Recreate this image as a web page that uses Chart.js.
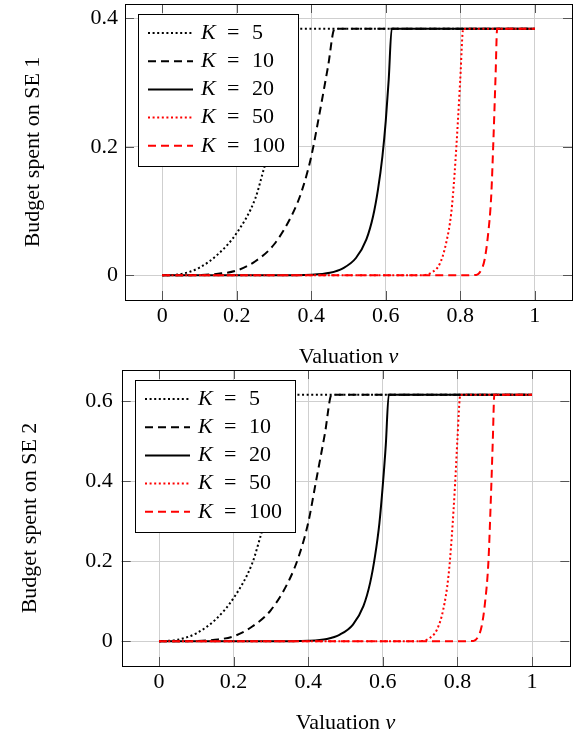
<!DOCTYPE html>
<html>
<head>
<meta charset="utf-8">
<title>Budget spent on SE 1 and SE 2</title>
<script src="https://cdn.jsdelivr.net/npm/chart.js"></script>
<style>
  body { margin: 0; background: #fff; }
  #wrap { position: relative; width: 573px; height: 734px; }
  canvas { position: absolute; left: 0; }
  #se1 { top: 0; }
  #se2 { top: 366px; }
</style>
<script>
  // K of each curve
  var kValues = [5, 10, 20, 50, 100];

  // valuation v, budget on SE 1, budget on SE 2
  var k5V   = [0, 0.05, 0.1, 0.15, 0.2, 0.25, 0.275, 0.3, 0.33, 0.36, 1];
  var k5SE1 = [0, 0.002, 0.012, 0.033, 0.066, 0.12, 0.17, 0.215, 0.29, 0.384, 0.384];
  var k5SE2 = [0, 0.004, 0.02, 0.053, 0.108, 0.195, 0.271, 0.345, 0.465, 0.616, 0.616];

  var k10V   = [0, 0.1, 0.15, 0.2, 0.25, 0.3, 0.35, 0.375, 0.4, 0.42, 0.445, 0.463, 1];
  var k10SE1 = [0, 0.0006, 0.0025, 0.0075, 0.022, 0.048, 0.096, 0.132, 0.185, 0.245, 0.325, 0.384, 0.384];
  var k10SE2 = [0, 0.001, 0.004, 0.0125, 0.037, 0.078, 0.155, 0.213, 0.296, 0.395, 0.52, 0.616, 0.616];

  var k20V   = [0, 0.3, 0.4, 0.45, 0.485, 0.52, 0.548, 0.566, 0.579, 0.591, 0.6, 0.608, 0.616, 1];
  var k20SE1 = [0, 0.0001, 0.001, 0.004, 0.011, 0.027, 0.056, 0.092, 0.133, 0.185, 0.24, 0.305, 0.384, 0.384];
  var k20SE2 = [0, 0.0001, 0.0015, 0.006, 0.017, 0.042, 0.088, 0.146, 0.212, 0.296, 0.39, 0.49, 0.616, 0.616];

  var k50V   = [0, 0.6, 0.7, 0.722, 0.745, 0.762, 0.776, 0.785, 0.794, 0.8, 0.808, 1];
  var k50SE1 = [0, 0, 0.0003, 0.004, 0.018, 0.05, 0.098, 0.16, 0.243, 0.305, 0.384, 0.384];
  var k50SE2 = [0, 0, 0.0005, 0.006, 0.029, 0.079, 0.1625, 0.2625, 0.396, 0.504, 0.616, 0.616];

  var k100V   = [0, 0.8, 0.843, 0.856, 0.865, 0.874, 0.883, 0.889, 0.895, 0.899, 1];
  var k100SE1 = [0, 0, 0.0006, 0.008, 0.0235, 0.06, 0.122, 0.21, 0.314, 0.384, 0.384];
  var k100SE2 = [0, 0, 0.001, 0.0125, 0.0375, 0.096, 0.196, 0.3375, 0.504, 0.616, 0.616];

  var xTicks = [0, 0.2, 0.4, 0.6, 0.8, 1];
  var xTickLabels = ['0', '0.2', '0.4', '0.6', '0.8', '1'];
  var se1Ticks = [0, 0.2, 0.4];
  var se1TickLabels = ['0', '0.2', '0.4'];
  var se2Ticks = [0, 0.2, 0.4, 0.6];
  var se2TickLabels = ['0', '0.2', '0.4', '0.6'];

  var FONT = '"Liberation Serif", "Times New Roman", serif';
  var FS = 22;

  function points(xs, ys) {
    return xs.map(function (x, i) { return { x: x, y: ys[i] }; });
  }

  function makeDatasets(ysList) {
    var colors = ['#000', '#000', '#000', '#ff0000', '#ff0000'];
    var dashes = [[2, 2.6], [8, 5], [], [2, 2.6], [8, 5]];
    var vList = [k5V, k10V, k20V, k50V, k100V];
    return kValues.map(function (k, i) {
      return {
        label: 'K = ' + k,
        data: points(vList[i], ysList[i]),
        borderColor: colors[i],
        borderDash: dashes[i],
        borderWidth: 2,
        pointRadius: 0,
        fill: false,
        cubicInterpolationMode: 'monotone',
        order: kValues.length - i
      };
    });
  }

  // frame, inner tick marks, legend box, x title
  var framePlugin = {
    id: 'frame',
    afterDatasetsDraw: function (chart) {
      var a = chart.chartArea, ctx = chart.ctx;
      var xs = chart.scales.x, ys = chart.scales.y;
      ctx.save();
      ctx.setLineDash([]);
      ctx.strokeStyle = '#555';
      ctx.lineWidth = 1;
      ctx.beginPath();
      xs.ticks.forEach(function (t) {
        var px = Math.round(xs.getPixelForValue(t.value)) + 0.5;
        ctx.moveTo(px, a.bottom); ctx.lineTo(px, a.bottom - 9);
        ctx.moveTo(px, a.top); ctx.lineTo(px, a.top + 9);
      });
      ys.ticks.forEach(function (t) {
        var py = Math.round(ys.getPixelForValue(t.value)) + 0.5;
        ctx.moveTo(a.left, py); ctx.lineTo(a.left + 9, py);
        ctx.moveTo(a.right, py); ctx.lineTo(a.right - 9, py);
      });
      ctx.stroke();
      ctx.strokeStyle = '#000';
      ctx.strokeRect(Math.round(a.left) + 0.5, Math.round(a.top) + 0.5,
                     Math.round(a.right - a.left), Math.round(a.bottom - a.top));

      // legend
      var bx = Math.round(a.left) + 13, by = Math.round(a.top) + 10, bw = 160, bh = 152;
      ctx.fillStyle = '#fff';
      ctx.fillRect(bx, by, bw, bh);
      ctx.strokeStyle = '#000';
      ctx.strokeRect(bx + 0.5, by + 0.5, bw, bh);
      chart.data.datasets.forEach(function (ds, i) {
        var cy = by + 19 + i * 28.2;
        ctx.beginPath();
        ctx.setLineDash(ds.borderDash);
        ctx.strokeStyle = ds.borderColor;
        ctx.lineWidth = ds.borderWidth;
        ctx.moveTo(bx + 10, cy);
        ctx.lineTo(bx + 55, cy);
        ctx.stroke();
        ctx.setLineDash([]);
        ctx.fillStyle = '#000';
        ctx.textBaseline = 'middle';
        ctx.textAlign = 'left';
        ctx.font = 'italic ' + FS + 'px ' + FONT;
        ctx.fillText('K', bx + 63, cy);
        ctx.font = FS + 'px ' + FONT;
        ctx.fillText('=', bx + 89, cy);
        ctx.fillText(String(kValues[i]), bx + 114, cy);
      });

      // x axis title "Valuation v"
      ctx.font = FS + 'px ' + FONT;
      var w1 = ctx.measureText('Valuation ').width;
      ctx.font = 'italic ' + FS + 'px ' + FONT;
      var w2 = ctx.measureText('v').width;
      var tx = (a.left + a.right) / 2 - (w1 + w2) / 2, ty = a.bottom + 57;
      ctx.fillStyle = '#000';
      ctx.textBaseline = 'middle';
      ctx.textAlign = 'left';
      ctx.font = FS + 'px ' + FONT;
      ctx.fillText('Valuation ', tx, ty);
      ctx.font = 'italic ' + FS + 'px ' + FONT;
      ctx.fillText('v', tx + w1, ty);
      ctx.restore();
    }
  };

  function makeChart(id, ysList, yMin, yMax, yTicks, yTickLabels, yTitle, o) {
    var canvas = document.getElementById(id);
    return new Chart(canvas.getContext('2d'), {
      type: 'line',
      data: { datasets: makeDatasets(ysList) },
      plugins: [framePlugin],
      options: {
        responsive: false,
        animation: false,
        layout: { padding: { top: 4, right: o.right, left: 0, bottom: 0 } },
        plugins: { legend: { display: false }, tooltip: { enabled: false } },
        scales: {
          x: {
            type: 'linear',
            min: -0.1,
            max: 1.1,
            afterBuildTicks: function (s) { s.ticks = xTicks.map(function (v) { return { value: v }; }); },
            afterFit: function (s) {
              s.height = canvas.height - 4 - 296;
              s.paddingLeft = 0; s.paddingRight = 0;
            },
            ticks: {
              padding: 3,
              color: '#000',
              font: { family: FONT, size: FS },
              callback: function (v, i) { return xTickLabels[i]; }
            },
            grid: { color: '#cfcfcf', lineWidth: 1, drawTicks: false },
            border: { display: false }
          },
          y: {
            type: 'linear',
            min: yMin,
            max: yMax,
            afterBuildTicks: function (s) { s.ticks = yTicks.map(function (v) { return { value: v }; }); },
            afterFit: function (s) {
              s.width = o.left;
              s.paddingTop = 0; s.paddingBottom = 0;
            },
            ticks: {
              padding: o.tickPad,
              color: '#000',
              font: { family: FONT, size: FS },
              callback: function (v, i) { return yTickLabels[i]; }
            },
            title: {
              display: true,
              text: yTitle,
              color: '#000',
              font: { family: FONT, size: FS },
              padding: { top: o.titlePad, bottom: 0 }
            },
            grid: { color: '#cfcfcf', lineWidth: 1, drawTicks: false },
            border: { display: false }
          }
        }
      }
    });
  }

  window.onload = function () {
    makeChart('se1', [k5SE1, k10SE1, k20SE1, k50SE1, k100SE1], -0.0384, 0.4224,
      se1Ticks, se1TickLabels, 'Budget spent on SE 1',
      { left: 125, right: 1, tickPad: 7, titlePad: 20 });
    makeChart('se2', [k5SE2, k10SE2, k20SE2, k50SE2, k100SE2], -0.0616, 0.6776,
      se2Ticks, se2TickLabels, 'Budget spent on SE 2',
      { left: 121.7, right: 3.7, tickPad: 9, titlePad: 17 });
  };
</script>
</head>
<body>
<div id="wrap">
  <canvas id="se1" width="573" height="366"></canvas>
  <canvas id="se2" width="573" height="368"></canvas>
</div>
</body>
</html>
